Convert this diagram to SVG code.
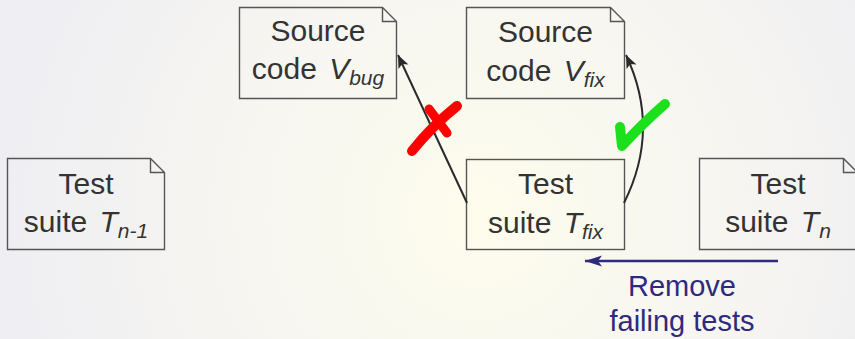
<svg xmlns="http://www.w3.org/2000/svg" width="855" height="339" viewBox="0 0 855 339">
<defs>
<radialGradient id="bg" cx="480" cy="215" r="470" gradientUnits="userSpaceOnUse">
<stop offset="0" stop-color="#fdfcec"/>
<stop offset="0.5" stop-color="#f7f6f1"/>
<stop offset="1" stop-color="#efeef2"/>
</radialGradient>
<marker id="ah" markerUnits="userSpaceOnUse" markerWidth="16" markerHeight="14" refX="14" refY="7" orient="auto" viewBox="0 0 16 14">
<path d="M14,7 L1,1.5 L4,7 L1,12.5 Z" fill="#2a2a2a"/>
</marker>
<marker id="ahb" markerUnits="userSpaceOnUse" markerWidth="20" markerHeight="14" refX="18" refY="7" orient="auto" viewBox="0 0 20 14">
<path d="M18,7 L1,1.5 L5,7 L1,12.5 Z" fill="#2e2a7e"/>
</marker>
</defs>
<style>
.box{fill:none;stroke:#555;stroke-width:1.4}
.t{font-family:"Liberation Sans",Arial,sans-serif;font-size:30px;fill:#333;text-anchor:middle}
.i{font-style:italic}
.s{font-style:italic;font-size:21px}
.conn{fill:none;stroke:#2a2a2a;stroke-width:2}
.blue{fill:none;stroke:#2e2a7e;stroke-width:2.6}
.lbl{font-family:"Liberation Sans",Arial,sans-serif;font-size:29px;fill:#2e2a7e;text-anchor:middle}
</style>
<rect x="0" y="0" width="855" height="339" fill="url(#bg)"/>

<g id="src-bug">
<path class="box" d="M239.5,7.5 H382.5 L396.5,21.5 V98.5 H239.5 Z M382.5,7.5 V21.5 H396.5"/>
<text class="t" x="318" y="41">Source</text>
<text class="t" x="318" y="79">code <tspan class="i" dx="4">V</tspan><tspan class="s" dy="6">bug</tspan></text>
</g>

<g id="src-fix">
<path class="box" d="M466.5,7.5 H610.5 L624.5,21.5 V98.5 H466.5 Z M610.5,7.5 V21.5 H624.5"/>
<text class="t" x="545.5" y="42">Source</text>
<text class="t" x="545.5" y="81">code <tspan class="i" dx="4">V</tspan><tspan class="s" dy="6">fix</tspan></text>
</g>

<g id="test-fix">
<rect class="box" x="466.5" y="159.5" width="158" height="90"/>
<text class="t" x="545.5" y="194">Test</text>
<text class="t" x="545.5" y="233">suite <tspan class="i" dx="4">T</tspan><tspan class="s" dy="6">fix</tspan></text>
</g>

<g id="test-prev">
<path class="box" d="M7.5,158.5 H150.5 L164.5,172.5 V249.5 H7.5 Z M150.5,158.5 V172.5 H164.5"/>
<text class="t" x="86" y="194">Test</text>
<text class="t" x="86" y="232">suite <tspan class="i" dx="4">T</tspan><tspan class="s" dy="6">n-1</tspan></text>
</g>

<g id="test-n">
<path class="box" d="M699.5,158.5 H843.5 L857.5,172.5 V249.5 H699.5 Z M843.5,158.5 V172.5 H857.5"/>
<text class="t" x="778" y="194">Test</text>
<text class="t" x="778" y="232">suite <tspan class="i" dx="4">T</tspan><tspan class="s" dy="6">n</tspan></text>
</g>

<g id="connectors">
<path class="conn" d="M467,203 L398,55" marker-end="url(#ah)"/>
<path class="conn" d="M624,203 Q661,129 626,55" marker-end="url(#ah)"/>
<path class="blue" d="M778,261 L585,261" marker-end="url(#ahb)"/>
</g>

<g id="marks">
<path d="M412,151 Q432,126 457,106" fill="none" stroke="#ff0000" stroke-width="10" stroke-linecap="round"/>
<path d="M429,109 Q438,121 447,133" fill="none" stroke="#ff0000" stroke-width="9" stroke-linecap="round"/>
<path d="M620,127 L622,146 Q642,124 665,104" fill="none" stroke="#1de01d" stroke-width="10" stroke-linecap="round" stroke-linejoin="round"/>
</g>

<g id="label">
<text class="lbl" x="682" y="296">Remove</text>
<text class="lbl" x="682" y="331">failing tests</text>
</g>
</svg>
